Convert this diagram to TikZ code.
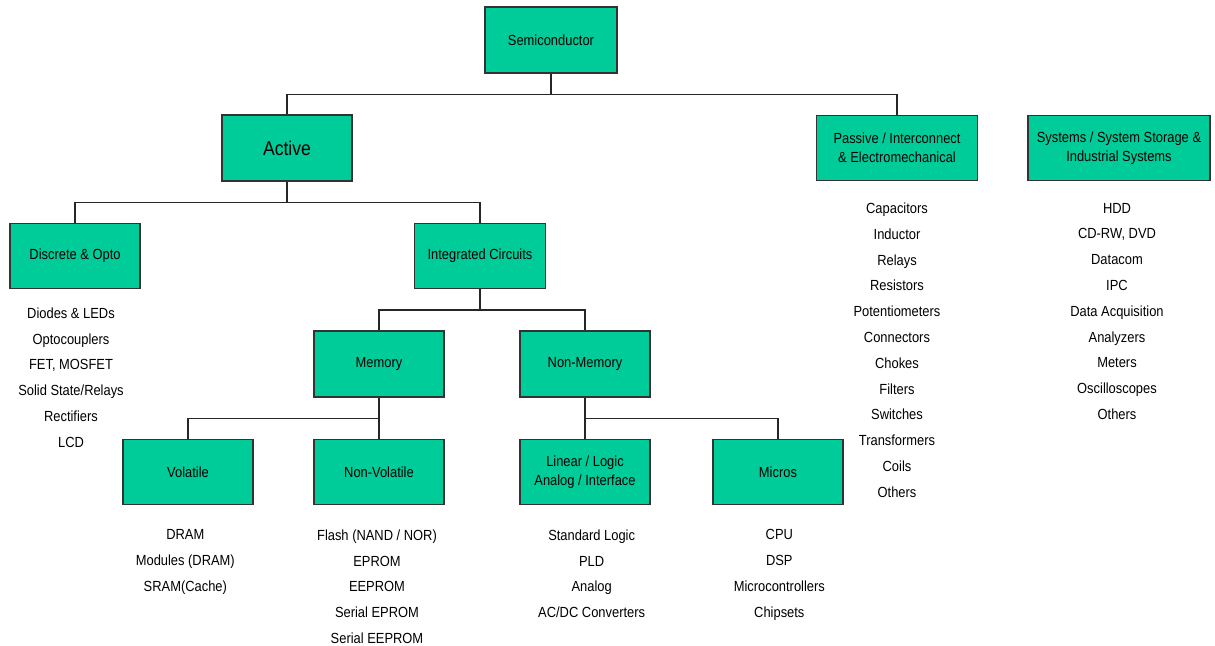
\documentclass[tikz,border=0pt]{standalone}
\usepackage{fontspec}
\setmainfont{Liberation Sans}[FakeStretch=0.88]
\usetikzlibrary{positioning}
\definecolor{boxgreen}{RGB}{0,204,153}

\begin{document}
\begin{tikzpicture}[
	node distance=81pt,
	on grid,
	box/.style={rectangle,fill=boxgreen,draw=black!80,line width=1.3pt,
		minimum width=97.5pt,minimum height=48.75pt,align=center,
		font=\fontsize{11}{14}\selectfont},
	list/.style={anchor=north,inner sep=0pt,align=center,
		font=\fontsize{11}{19.35}\selectfont},
	link/.style={black!85,line width=1.1pt}]

\useasboundingbox (-413.25pt,30pt) rectangle (498pt,-454.5pt);

% Boxes
\node[box,
	minimum width=99pt,
	minimum height=49.5pt] (semi) at (0,0) {Semiconductor};

\node[box,
	below left=81pt and 198pt of semi,
	minimum height=49.5pt,
	font=\fontsize{15}{18}\selectfont] (active) {Active};

\node[box,
	below right=81pt and 259.5pt of semi,
	minimum width=120.75pt] (passive) {Passive / Interconnect\\\& Electromechanical};

\node[box,
	right=166.5pt of passive,
	minimum width=136.5pt] (systems) {Systems / System Storage \&\\Industrial Systems};

\node[box,
	below left=81pt and 159pt of active] (discrete) {Discrete \& Opto};

\node[box,
	below right=81pt and 144.75pt of active,
	minimum width=98.25pt] (ic) {Integrated Circuits};

\node[box,
	below left=81pt and 75.75pt of ic,
	minimum height=49.5pt] (memory) {Memory};

\node[box,
	below right=81pt and 78.75pt of ic,
	minimum height=49.5pt] (nonmemory) {Non-Memory};

\node[box,
	below left=81pt and 143.25pt of memory] (volatile) {Volatile};

\node[box,
	below=of memory] (nonvolatile) {Non-Volatile};

\node[box,
	below=of nonmemory] (linear) {Linear / Logic\\Analog / Interface};

\node[box,
	below right=81pt and 144.75pt of nonmemory] (micros) {Micros};

% Lists
\node[list] (passivelist) at ([yshift=-16pt]passive.south)
	{Capacitors\\Inductor\\Relays\\Resistors\\Potentiometers\\Connectors\\Chokes\\Filters\\Switches\\Transformers\\Coils\\Others};

\node[list] (systemslist) at ([xshift=-1.5pt,yshift=-16pt]systems.south)
	{HDD\\CD-RW, DVD\\Datacom\\IPC\\Data Acquisition\\Analyzers\\Meters\\Oscilloscopes\\Others};

\node[list] (discretelist) at ([xshift=-3pt,yshift=-13.6pt]discrete.south)
	{Diodes \& LEDs\\Optocouplers\\FET, MOSFET\\Solid State/Relays\\Rectifiers\\LCD};

\node[list] (volatilelist) at ([xshift=-2pt,yshift=-18pt]volatile.south)
	{DRAM\\Modules (DRAM)\\SRAM(Cache)};

\node[list] (nonvolatilelist) at ([xshift=-1.5pt,yshift=-18pt]nonvolatile.south)
	{Flash (NAND / NOR)\\EPROM\\EEPROM\\Serial EPROM\\Serial EEPROM};

\node[list] (linearlist) at ([xshift=5pt,yshift=-18pt]linear.south)
	{Standard Logic\\PLD\\Analog\\AC/DC Converters};

\node[list] (microslist) at ([xshift=1pt,yshift=-18pt]micros.south)
	{CPU\\DSP\\Microcontrollers\\Chipsets};

% connections
\draw[link] (semi.south) -- ++(0,-15.5pt) coordinate (b1)
	(b1) -| (active.north)
	(b1) -| (passive.north);

\draw[link] (active.south) -- ++(0,-15.5pt) coordinate (b2)
	(b2) -| (discrete.north)
	(b2) -| (ic.north);

\draw[link] (ic.south) -- ++(0,-15.5pt) coordinate (b3)
	(b3) -| (memory.north)
	(b3) -| (nonmemory.north);

\draw[link] (memory.south) -- (nonvolatile.north)
	(memory.south) ++(0,-15.5pt) coordinate (b4)
	(b4) -| (volatile.north);

\draw[link] (nonmemory.south) -- (linear.north)
	(nonmemory.south) ++(0,-15.5pt) coordinate (b5)
	(b5) -| (micros.north);

\end{tikzpicture}
\end{document}
